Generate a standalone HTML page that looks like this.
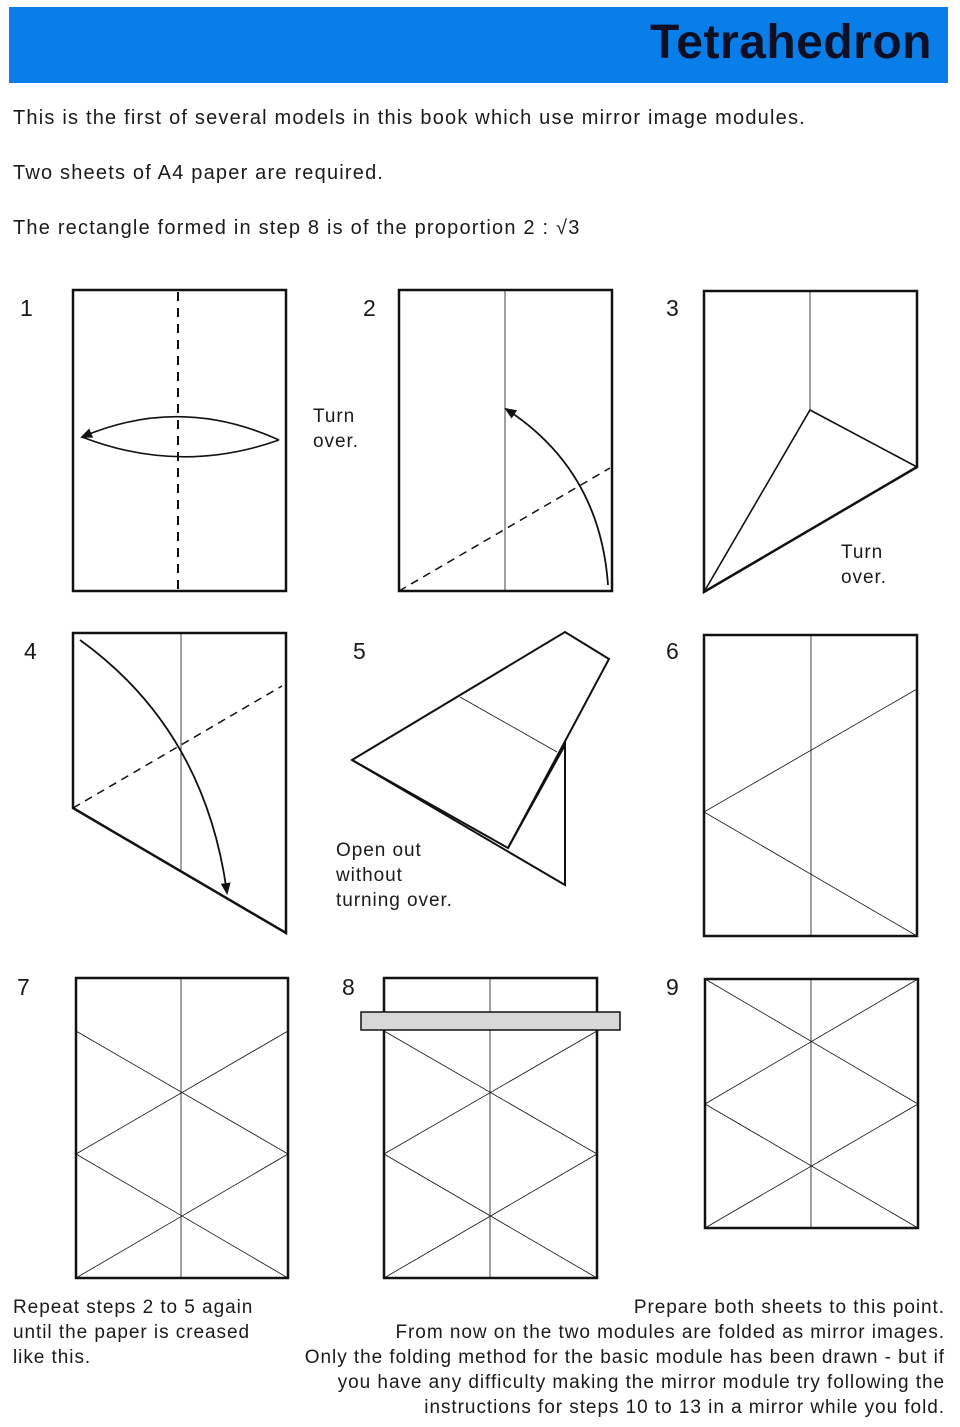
<!DOCTYPE html>
<html><head><meta charset="utf-8"><style>
body{margin:0;background:#fff;width:960px;height:1427px;overflow:hidden;position:relative;font-family:"Liberation Sans",sans-serif;color:#1a1a1a}
.hdr{position:absolute;left:9px;top:7px;width:939px;height:76px;background:#0a7ee8}
.hdr span{position:absolute;right:16px;top:8px;font-size:48px;font-weight:bold;color:#0d0f24;letter-spacing:0.5px}
.t{position:absolute;font-size:20px;white-space:nowrap;line-height:25px;letter-spacing:1.2px}
.s{font-size:19px;letter-spacing:0.95px}
svg{position:absolute;left:0;top:0}
</style></head><body>
<div class="hdr"><span>Tetrahedron</span></div>
<div class="t" style="left:13px;top:106px">This is the first of several models in this book which use mirror image modules.</div>
<div class="t" style="left:13px;top:161px">Two sheets of A4 paper are required.</div>
<div class="t" style="left:13px;top:216px">The rectangle formed in step 8 is of the proportion 2 : √3</div>
<div class="t" style="left:20px;top:296px;font-size:23px">1</div>
<div class="t" style="left:363px;top:296px;font-size:23px">2</div>
<div class="t" style="left:666px;top:296px;font-size:23px">3</div>
<div class="t" style="left:24px;top:639px;font-size:23px">4</div>
<div class="t" style="left:353px;top:639px;font-size:23px">5</div>
<div class="t" style="left:666px;top:639px;font-size:23px">6</div>
<div class="t" style="left:17px;top:975px;font-size:23px">7</div>
<div class="t" style="left:342px;top:975px;font-size:23px">8</div>
<div class="t" style="left:666px;top:975px;font-size:23px">9</div>
<div class="t s" style="left:313px;top:404px">Turn<br>over.</div>
<div class="t s" style="left:841px;top:540px">Turn<br>over.</div>
<div class="t s" style="left:336px;top:838px">Open out<br>without<br>turning over.</div>
<div class="t s" style="left:13px;top:1295px">Repeat steps 2 to 5 again<br>until the paper is creased<br>like this.</div>
<div class="t s" style="right:15px;top:1295px;text-align:right">Prepare both sheets to this point.<br>From now on the two modules are folded as mirror images.<br>Only the folding method for the basic module has been drawn - but if<br>you have any difficulty making the mirror module try following the<br>instructions for steps 10 to 13 in a mirror while you fold.</div>
<svg width="960" height="1427" viewBox="0 0 960 1427">
<defs><marker id="a" markerWidth="12" markerHeight="10" refX="10" refY="5" orient="auto" markerUnits="userSpaceOnUse"><path d="M0,0 L12,5 L0,10 Z" fill="#111"/></marker></defs>
<g fill="none" stroke="#111">
<rect x="73" y="290" width="213" height="301" stroke-width="2.5"/>
<line x1="178" y1="292" x2="178" y2="590" stroke-width="2" stroke-dasharray="9,7"/>
<path d="M279,440 Q180,395 82,437" stroke-width="1.6" marker-end="url(#a)"/>
<path d="M279,440 Q180,475 82,437" stroke-width="1.6"/>
<rect x="399" y="290" width="213" height="301" stroke-width="2.5"/>
<line x1="505" y1="291" x2="505" y2="590" stroke-width="0.8"/>
<line x1="399" y1="591" x2="610" y2="468" stroke-width="1.5" stroke-dasharray="8,6"/>
<path d="M608,585 Q600,470 506,409" stroke-width="1.8" marker-end="url(#a)"/>
<path d="M704,592 L704,291 L917,291 L917,467 Z" stroke-width="2.5"/>
<path d="M704,592 L810,410 L917,467" stroke-width="1.6"/>
<line x1="810" y1="291" x2="810" y2="410" stroke-width="0.8"/>
<path d="M73,808 L73,633 L286,633 L286,933 Z" stroke-width="2.5"/>
<line x1="181" y1="634" x2="181" y2="870" stroke-width="0.8"/>
<line x1="73" y1="808" x2="282" y2="686" stroke-width="1.5" stroke-dasharray="8,6"/>
<path d="M80,640 Q205,730 227,893" stroke-width="1.8" marker-end="url(#a)"/>
<path d="M352,760 L565,632 L609,659 L508,848 Z" stroke-width="2"/>
<path d="M352,760 L565,885 L565,745 L508,848" stroke-width="2"/>
<line x1="460" y1="697" x2="557" y2="752" stroke-width="0.8"/>
<rect x="704" y="635" width="213" height="301" stroke-width="2.5"/>
<line x1="811" y1="635" x2="811" y2="936" stroke-width="0.8"/>
<path d="M917,689 L704,812 L917,936" stroke-width="0.8"/>
<rect x="76" y="978" width="212" height="300" stroke-width="2.5"/>
<g stroke-width="0.8"><line x1="181" y1="978" x2="181" y2="1278"/>
<line x1="76" y1="1031" x2="288" y2="1154"/><line x1="288" y1="1031" x2="76" y2="1154"/>
<line x1="76" y1="1154" x2="288" y2="1278"/><line x1="288" y1="1154" x2="76" y2="1278"/></g>
<rect x="384" y="978" width="213" height="300" stroke-width="2.5"/>
<g stroke-width="0.8"><line x1="490" y1="978" x2="490" y2="1278"/>
<line x1="384" y1="1031" x2="597" y2="1154"/><line x1="597" y1="1031" x2="384" y2="1154"/>
<line x1="384" y1="1154" x2="597" y2="1278"/><line x1="597" y1="1154" x2="384" y2="1278"/></g>
<rect x="361" y="1012" width="259" height="18" fill="#d8d8d8" stroke-width="1.5"/>
<rect x="705" y="979" width="213" height="249" stroke-width="2.5"/>
<g stroke-width="0.8"><line x1="811" y1="979" x2="811" y2="1228"/>
<line x1="705" y1="979" x2="918" y2="1104"/><line x1="918" y1="979" x2="705" y2="1104"/>
<line x1="705" y1="1104" x2="918" y2="1228"/><line x1="918" y1="1104" x2="705" y2="1228"/></g>
</g>
</svg>
</body></html>
